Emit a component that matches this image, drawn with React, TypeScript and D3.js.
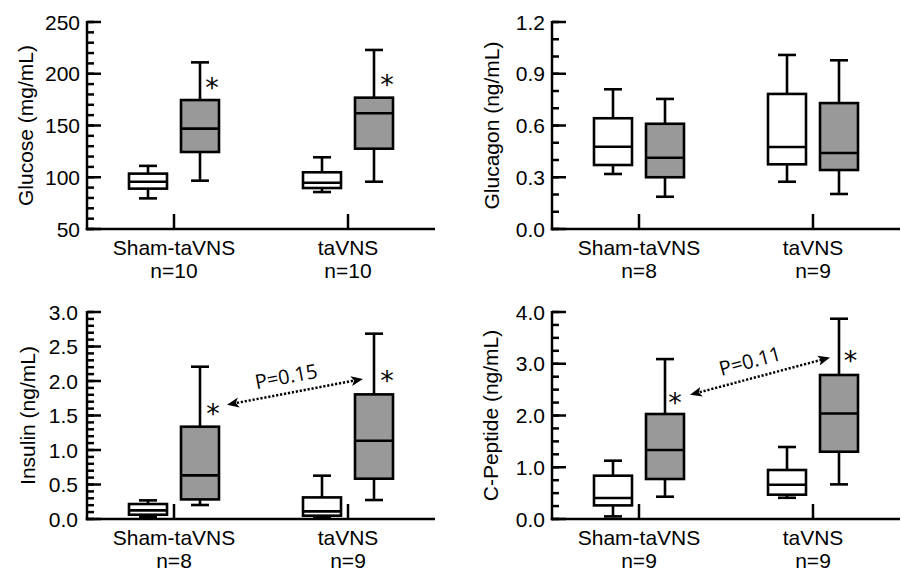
import React from "react";
import * as d3 from "d3";

const categories = ["Sham-taVNS", "taVNS"];

// box stats: [low whisker, q1, median, q3, high whisker]
const glucoseN = ["n=10", "n=10"];
const glucoseWhite = [[79.6, 89, 95.7, 103.5, 111], [85.7, 89.6, 94.7, 104.8, 119.3]];
const glucoseGray = [[96.7, 124.4, 147, 174.6, 211], [95.7, 127.6, 161.8, 176.9, 223]];
const glucoseTicks = [50, 100, 150, 200, 250];
const glucoseStars = [192, 195];

const glucagonN = ["n=8", "n=9"];
const glucagonWhite = [[0.319, 0.371, 0.477, 0.642, 0.81], [0.274, 0.375, 0.475, 0.783, 1.009]];
const glucagonGray = [[0.187, 0.3, 0.413, 0.61, 0.754], [0.203, 0.342, 0.441, 0.73, 0.978]];
const glucagonTicks = [0, 0.3, 0.6, 0.9, 1.2];

const insulinN = ["n=8", "n=9"];
const insulinWhite = [[0.026, 0.062, 0.125, 0.217, 0.27], [0.03, 0.048, 0.11, 0.313, 0.628]];
const insulinGray = [[0.203, 0.284, 0.632, 1.338, 2.207], [0.275, 0.584, 1.135, 1.806, 2.686]];
const insulinTicks = [0, 0.5, 1.0, 1.5, 2.0, 2.5, 3.0];
const insulinStars = [1.61, 2.09];
const insulinArrow = [1.656, 2.03];

const cpepN = ["n=9", "n=9"];
const cpepWhite = [[0.05, 0.263, 0.406, 0.837, 1.127], [0.41, 0.47, 0.663, 0.947, 1.391]];
const cpepGray = [[0.431, 0.773, 1.333, 2.029, 3.09], [0.669, 1.3, 2.04, 2.783, 3.87]];
const cpepTicks = [0, 1.0, 2.0, 3.0, 4.0];
const cpepStars = [2.36, 3.17];
const cpepArrow = [2.4, 3.12];

const FONT = "'Liberation Sans', Arial, Helvetica, sans-serif";

type PanelProps = {
  left: number;
  top: number;
  domain: [number, number];
  ticks: number[];
  minorStep: number;
  fmt: (v: number) => string;
  title: string;
  titleX: number;
  nLabels: string[];
  white: number[][];
  gray: number[][];
  stars?: number[];
  starDx?: number[];
  arrow?: number[];
  arrowDx?: number[];
  pLabel?: string;
  labelGap: number;
  id: string;
};

const W = 348;
const H = 207;

function Box({ cx, s, y, fill }: { cx: number; s: number[]; y: d3.ScaleLinear<number, number>; fill: string }) {
  const bw = 38;
  const cw = 18;
  const [lo, q1, med, q3, hi] = s;
  return (
    <g stroke="#000" strokeWidth={2.6} fill="none">
      <line x1={cx} x2={cx} y1={y(q3)} y2={y(hi)} />
      <line x1={cx} x2={cx} y1={y(q1)} y2={y(lo)} />
      <line x1={cx - cw / 2} x2={cx + cw / 2} y1={y(hi)} y2={y(hi)} />
      <line x1={cx - cw / 2} x2={cx + cw / 2} y1={y(lo)} y2={y(lo)} />
      <rect x={cx - bw / 2} y={y(q3)} width={bw} height={y(q1) - y(q3)} fill={fill} />
      <line x1={cx - bw / 2} x2={cx + bw / 2} y1={y(med)} y2={y(med)} />
    </g>
  );
}

function Panel(p: PanelProps) {
  const y = d3.scaleLinear().domain(p.domain).range([p.top + H, p.top]);
  const x = d3.scalePoint<string>().domain(categories).range([p.left, p.left + W]).padding(0.5);
  const minors = d3.range(p.domain[0], p.domain[1] + p.minorStep / 2, p.minorStep);
  const bottom = p.top + H;
  const off = 26;
  let arrowEl = null;
  if (p.arrow && p.arrowDx) {
    const x1 = (x(categories[0]) as number) + p.arrowDx[0];
    const y1 = y(p.arrow[0]);
    const x2 = (x(categories[1]) as number) + p.arrowDx[1];
    const y2 = y(p.arrow[1]);
    const ang = (Math.atan2(y2 - y1, x2 - x1) * 180) / Math.PI;
    const mx = (x1 + x2) / 2;
    const my = (y1 + y2) / 2;
    const len = Math.hypot(x2 - x1, y2 - y1);
    const nx = (y2 - y1) / len;
    const ny = -(x2 - x1) / len;
    const tx = mx + nx * 16 - 6;
    const ty = my + ny * 16;
    arrowEl = (
      <g>
        <line
          x1={x1 + (x2 - x1) / len * 6}
          y1={y1 + (y2 - y1) / len * 6}
          x2={x2 - (x2 - x1) / len * 6}
          y2={y2 - (y2 - y1) / len * 6}
          stroke="#000"
          strokeWidth={2.5}
          strokeDasharray="2.2,1.8"
          markerStart={`url(#ah-${p.id})`}
          markerEnd={`url(#ah-${p.id})`}
        />
        <text
          x={tx}
          y={ty}
          transform={`rotate(${ang},${tx},${ty})`}
          textAnchor="middle"
          dominantBaseline="central"
          fontFamily="'Open Sans', Lato, sans-serif"
          fontSize={20}
          fill="#000"
        >
          {p.pLabel}
        </text>
      </g>
    );
  }
  return (
    <g>
      <defs>
        <marker
          id={`ah-${p.id}`}
          viewBox="0 -6 12 12"
          refX={6}
          refY={0}
          markerWidth={12}
          markerHeight={12}
          markerUnits="userSpaceOnUse"
          orient="auto-start-reverse"
        >
          <path d="M0,-5 L12,0 L0,5 L3,0 Z" fill="#000" />
        </marker>
      </defs>
      {/* axes */}
      <line x1={p.left} x2={p.left} y1={p.top - 1} y2={bottom + 1.25} stroke="#000" strokeWidth={2.5} />
      <line x1={p.left - 1.25} x2={p.left + W} y1={bottom} y2={bottom} stroke="#000" strokeWidth={2.5} />
      {minors.map((v, i) => (
        <line key={"m" + i} x1={p.left} x2={p.left + 7} y1={y(v)} y2={y(v)} stroke="#000" strokeWidth={2.5} />
      ))}
      {p.ticks.map((v, i) => (
        <g key={"t" + i}>
          <line x1={p.left} x2={p.left + 14} y1={y(v)} y2={y(v)} stroke="#000" strokeWidth={2.5} />
          <text
            x={p.left - p.labelGap}
            y={y(v)}
            textAnchor="end"
            dominantBaseline="central"
            fontFamily={FONT}
            fontSize={21}
            fill="#000"
          >
            {p.fmt(v)}
          </text>
        </g>
      ))}
      {categories.map((c, i) => {
        const cx = x(c) as number;
        return (
          <g key={c}>
            <line x1={cx} x2={cx} y1={bottom} y2={bottom - 15} stroke="#000" strokeWidth={2.5} />
            <text x={cx} y={bottom + 26} textAnchor="middle" fontFamily={FONT} fontSize={21} fill="#000">
              {c}
            </text>
            <text x={cx} y={bottom + 49} textAnchor="middle" fontFamily={FONT} fontSize={21} fill="#000">
              {p.nLabels[i]}
            </text>
            <Box cx={cx - off} s={p.white[i]} y={y} fill="#fff" />
            <Box cx={cx + off} s={p.gray[i]} y={y} fill="#999999" />
            {p.stars && p.starDx ? (
              <text
                x={cx + off + p.starDx[i]}
                y={y(p.stars[i]) + 15}
                textAnchor="middle"
                fontFamily="'DejaVu Sans', sans-serif"
                fontSize={27}
                fill="#000"
              >
                *
              </text>
            ) : null}
          </g>
        );
      })}
      {arrowEl}
      <text
        transform={`translate(${p.titleX},${p.top + H / 2}) rotate(-90)`}
        textAnchor="middle"
        dominantBaseline="central"
        fontFamily={FONT}
        fontSize={21}
        fill="#000"
      >
        {p.title}
      </text>
    </g>
  );
}

export default function App() {
  const f1 = d3.format(".1f");
  const f0 = d3.format("d");
  return (
    <svg
      width={901}
      height={569}
      viewBox="0 0 901 569"
      style={{ position: "absolute", left: 0, top: 0, background: "#fff" }}
    >
      <rect width={901} height={569} fill="#fff" />
      <Panel
        id="glu"
        left={87}
        top={22}
        domain={[50, 250]}
        ticks={glucoseTicks}
        minorStep={10}
        fmt={f0}
        title="Glucose (mg/mL)"
        titleX={25}
        nLabels={glucoseN}
        white={glucoseWhite}
        gray={glucoseGray}
        stars={glucoseStars}
        starDx={[12, 13]}
        labelGap={7}
      />
      <Panel
        id="gcg"
        left={552}
        top={22}
        domain={[0, 1.2]}
        ticks={glucagonTicks}
        minorStep={0.1}
        fmt={f1}
        title="Glucagon (ng/mL)"
        titleX={491}
        nLabels={glucagonN}
        white={glucagonWhite}
        gray={glucagonGray}
        labelGap={7}
      />
      <Panel
        id="ins"
        left={87}
        top={312}
        domain={[0, 3]}
        ticks={insulinTicks}
        minorStep={0.1}
        fmt={f1}
        title="Insulin (ng/mL)"
        titleX={27}
        nLabels={insulinN}
        white={insulinWhite}
        gray={insulinGray}
        stars={insulinStars}
        starDx={[13, 13]}
        arrow={insulinArrow}
        arrowDx={[53, 15]}
        pLabel="P=0.15"
        labelGap={9}
      />
      <Panel
        id="cpep"
        left={552}
        top={312}
        domain={[0, 4]}
        ticks={cpepTicks}
        minorStep={0.25}
        fmt={f1}
        title="C-Peptide (ng/mL)"
        titleX={490}
        nLabels={cpepN}
        white={cpepWhite}
        gray={cpepGray}
        stars={cpepStars}
        starDx={[10, 11.5]}
        arrow={cpepArrow}
        arrowDx={[51, 17]}
        pLabel="P=0.11"
        labelGap={7}
      />
    </svg>
  );
}
